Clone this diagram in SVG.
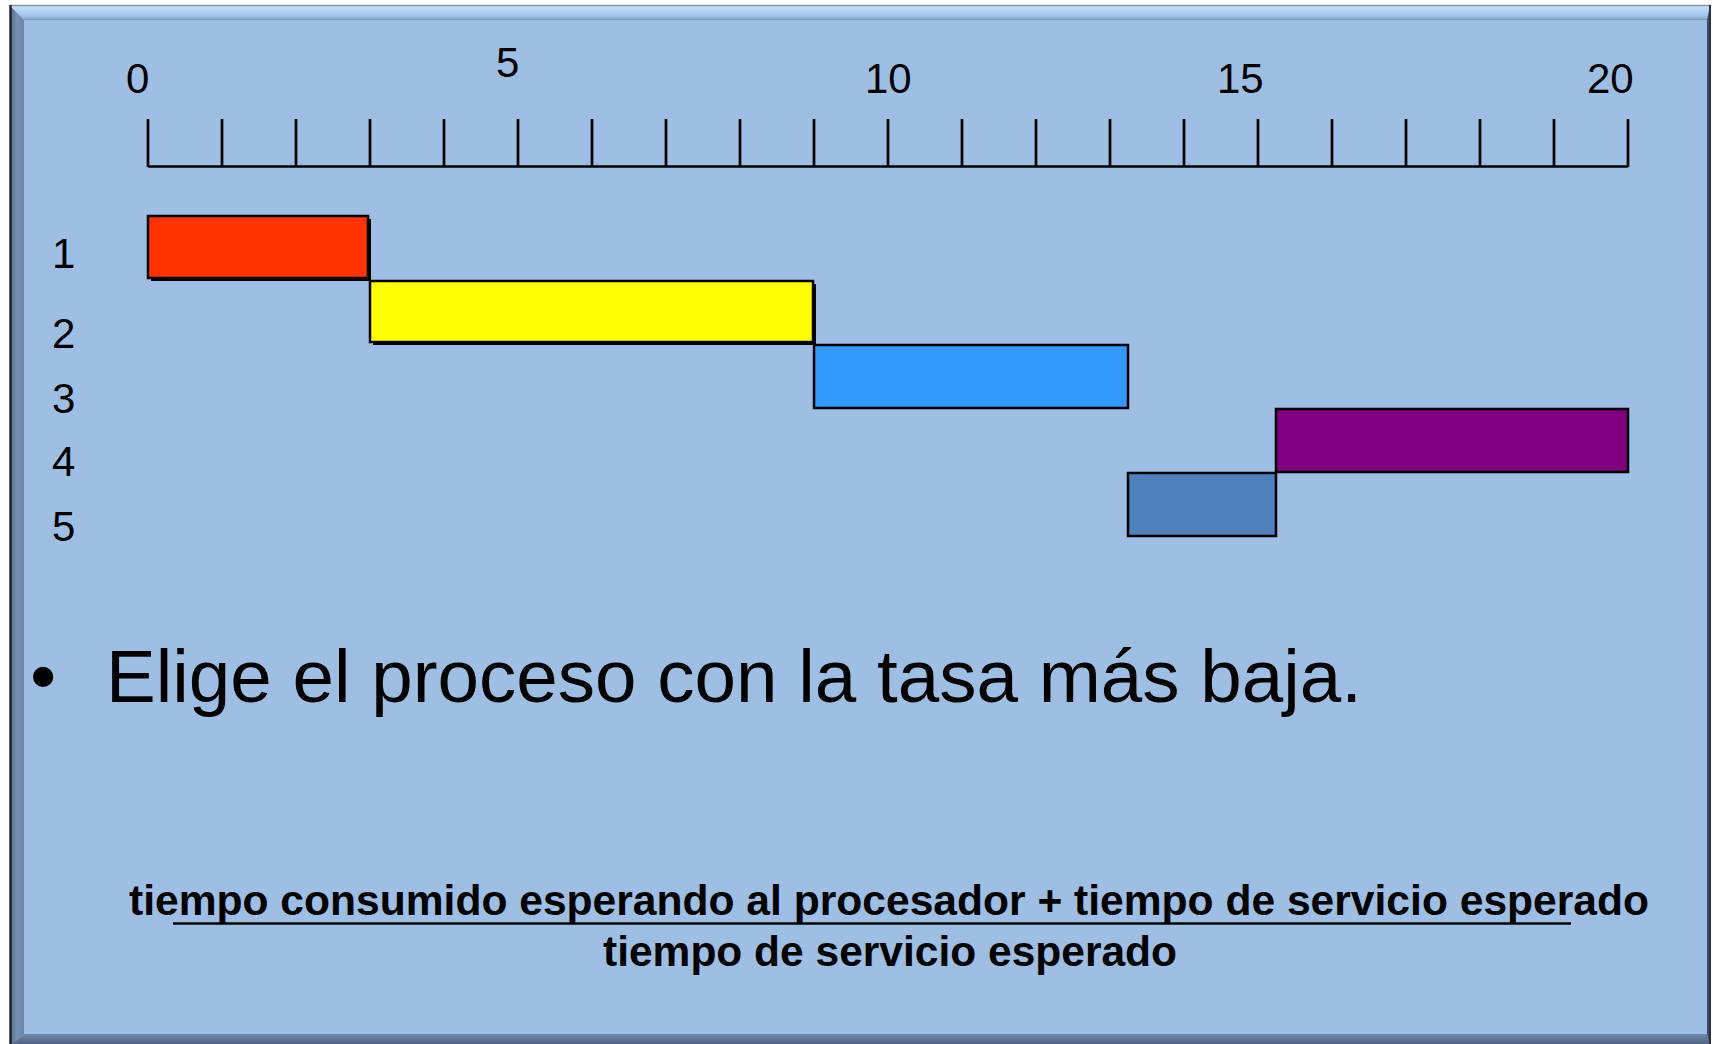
<svg xmlns="http://www.w3.org/2000/svg" width="1713" height="1044" viewBox="0 0 1713 1044">
  <defs>
    <linearGradient id="topBevel" x1="0" y1="0" x2="0" y2="1">
      <stop offset="0" stop-color="#c4e0fa"/>
      <stop offset="0.6" stop-color="#a8c8ec"/>
      <stop offset="1" stop-color="#8aa8cc"/>
    </linearGradient>
    <linearGradient id="leftBevel" x1="0" y1="0" x2="1" y2="0">
      <stop offset="0" stop-color="#55698a"/>
      <stop offset="0.5" stop-color="#7590b2"/>
      <stop offset="1" stop-color="#6a84a6"/>
    </linearGradient>
    <linearGradient id="bottomBevel" x1="0" y1="0" x2="0" y2="1">
      <stop offset="0" stop-color="#7089aa"/>
      <stop offset="1" stop-color="#4b5e7a"/>
    </linearGradient>
  </defs>
  <style>
    .lbl { font-family: "Liberation Sans", Arial, Helvetica, sans-serif; font-size: 42px; fill: #000; }
    .tick { stroke: #000; stroke-width: 2.7; fill: none; }
    .bar { stroke: #000; stroke-width: 2.5; }
    .shadow { fill: #000; }
    .bullet { font-family: "Liberation Sans", Arial, Helvetica, sans-serif; font-size: 75px; fill: #000; }
    .formula { font-family: "Liberation Sans", Arial, Helvetica, sans-serif; font-size: 42.5px; font-weight: bold; fill: #000; }
  </style>

  <rect x="0" y="0" width="1713" height="1044" fill="#ffffff"/>

  <g id="frame">
    <rect x="10" y="6" width="1700" height="1040" fill="#9ebee4"/>
    <polygon points="10,6 1710,6 1707,20 24,20" fill="url(#topBevel)"/>
    <polygon points="10,6 24,20 24,1034 10,1046" fill="url(#leftBevel)"/>
    <polygon points="10,1046 24,1034 1707,1034 1710,1046" fill="url(#bottomBevel)"/>
    <polygon points="1710,6 1707,20 1707,1034 1710,1046" fill="#3e4e66"/>
    <line x1="24" y1="19.5" x2="1707" y2="19.5" stroke="#7f9cc0" stroke-width="1"/>
    <line x1="10" y1="5.5" x2="1711" y2="5.5" stroke="#8a96a4" stroke-width="1.5"/>
    <line x1="10.5" y1="5" x2="10.5" y2="1044" stroke="#1e2530" stroke-width="2.5"/>
    <line x1="1710" y1="5" x2="1710" y2="1044" stroke="#2a3240" stroke-width="2"/>
    <rect x="24" y="20" width="1683" height="1014" fill="#9ebee4"/>
  </g>

  <g id="ruler">
    <path class="tick" d="M148,166.5 H1628 M148,119 V167 M222,119 V167 M296,119 V167 M370,119 V167 M444,119 V167 M518,119 V167 M592,119 V167 M666,119 V167 M740,119 V167 M814,119 V167 M888,119 V167 M962,119 V167 M1036,119 V167 M1110,119 V167 M1184,119 V167 M1258,119 V167 M1332,119 V167 M1406,119 V167 M1480,119 V167 M1554,119 V167 M1628,119 V167"/>
    <text class="lbl" x="126" y="93">0</text>
    <text class="lbl" x="496" y="77">5</text>
    <text class="lbl" x="865" y="93">10</text>
    <text class="lbl" x="1217" y="93">15</text>
    <text class="lbl" x="1587" y="93">20</text>
  </g>

  <g id="row-labels">
    <text class="lbl" x="52" y="268">1</text>
    <text class="lbl" x="52" y="348">2</text>
    <text class="lbl" x="52" y="413">3</text>
    <text class="lbl" x="52" y="476">4</text>
    <text class="lbl" x="52" y="541">5</text>
  </g>

  <g id="bar-1">
    <rect class="shadow" x="151" y="219" width="220" height="62"/>
    <rect class="bar" x="148" y="216" width="220" height="62" fill="#ff3300"/>
  </g>
  <g id="bar-2">
    <rect class="shadow" x="373" y="284" width="443" height="61"/>
    <rect class="bar" x="370" y="281" width="443" height="61" fill="#ffff00"/>
  </g>
  <g id="bar-3">
    <rect class="bar" x="814" y="345" width="314" height="63" fill="#3399ff"/>
  </g>
  <g id="bar-4">
    <rect class="bar" x="1276" y="409" width="352" height="63" fill="#800080"/>
  </g>
  <g id="bar-5">
    <rect class="bar" x="1128" y="473" width="148" height="63" fill="#4f81bd"/>
  </g>

  <g id="bullet-text">
    <text class="bullet" x="30" y="702">•</text>
    <text class="bullet" x="106" y="702" textLength="1256" lengthAdjust="spacingAndGlyphs">Elige el proceso con la tasa más baja.</text>
  </g>

  <g id="formula">
    <text class="formula" x="889" y="915" text-anchor="middle" textLength="1520" lengthAdjust="spacingAndGlyphs">tiempo consumido esperando al procesador + tiempo de servicio esperado</text>
    <line x1="173" y1="923.5" x2="1571" y2="923.5" stroke="#000" stroke-width="2.5"/>
    <text class="formula" x="890" y="966" text-anchor="middle" textLength="574" lengthAdjust="spacingAndGlyphs">tiempo de servicio esperado</text>
  </g>
</svg>
